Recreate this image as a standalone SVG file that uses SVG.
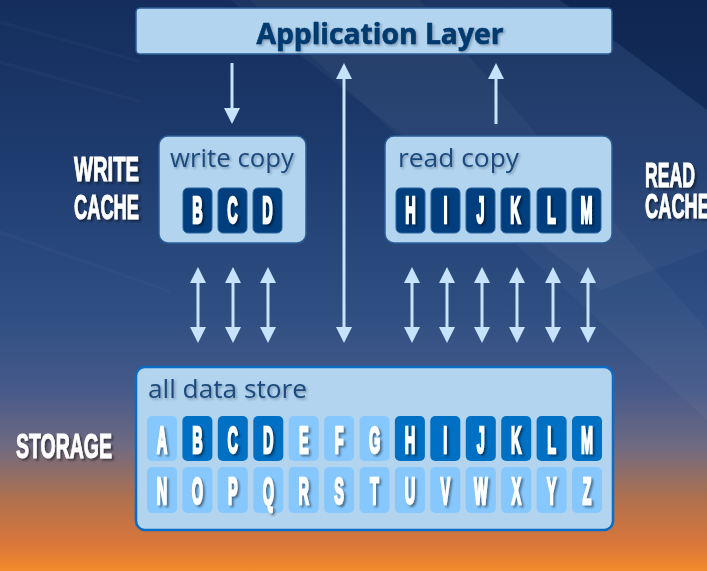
<svg xmlns="http://www.w3.org/2000/svg" width="707" height="571" viewBox="0 0 707 571">
<defs>
<linearGradient id="bg" x1="0" y1="0" x2="0" y2="1">
<stop offset="0" stop-color="#142d5c"/>
<stop offset="0.3" stop-color="#1f3d70"/>
<stop offset="0.55" stop-color="#2f4f82"/>
<stop offset="0.68" stop-color="#45598a"/>
<stop offset="0.78" stop-color="#6e6a82"/>
<stop offset="0.87" stop-color="#ad7050"/>
<stop offset="0.95" stop-color="#d8763a"/>
<stop offset="1" stop-color="#f28b2c"/>
</linearGradient>
<filter id="sh" x="-20%" y="-20%" width="150%" height="150%">
<feDropShadow dx="2" dy="2" stdDeviation="1" flood-color="#000" flood-opacity="0.45"/>
</filter>
<filter id="sh2" x="-20%" y="-20%" width="150%" height="150%">
<feDropShadow dx="1.5" dy="1.5" stdDeviation="1" flood-color="#1a2a40" flood-opacity="0.35"/>
</filter>
<marker id="ah" viewBox="0 0 16 16" refX="0" refY="8" markerWidth="16" markerHeight="16" markerUnits="userSpaceOnUse" orient="auto-start-reverse">
<path d="M0,0 L16,8 L0,16 Z" fill="#c6e3fb"/>
</marker>
<style>
.box{fill:#b2d4ee;stroke:#2b5e97;stroke-width:1.5}
.sbox{fill:#b2d4ee;stroke:#0a6cc4;stroke-width:2.5}
.title{font-family:"Open Sans","Liberation Sans",sans-serif;font-weight:bold;fill:#003a70;stroke:#003a70;stroke-width:0.6}
.sub{font-family:"Open Sans","Liberation Sans",sans-serif;fill:#1c4a7d}
.side{font-family:"Liberation Sans",Arial,sans-serif;font-weight:bold;font-size:35px;fill:#ffffff;stroke:#ffffff;stroke-width:1}
.lt{font-family:"Liberation Sans",Arial,sans-serif;font-weight:bold;font-size:36px;fill:#ffffff;stroke:#ffffff;stroke-width:2.4;text-anchor:middle}
.tdark{fill:#003e7e;stroke:#2b64a0;stroke-width:1}
.tblue{fill:#0070c4}
.tlight{fill:#86c8fd}
.arr{stroke:#c6e3fb;stroke-width:3;fill:none}
</style>
</defs>

<g id="background">
<rect x="0" y="0" width="707" height="571" fill="url(#bg)"/>
<polygon points="560,0 707,0 707,110" fill="#0a1e48" opacity="0.45"/>
<polygon points="230,0 560,0 707,110 707,250 600,290" fill="#ffffff" opacity="0.035"/>
<polygon points="250,0 420,0 707,330 707,420" fill="#ffffff" opacity="0.03"/>
<polygon points="0,20 140,60 140,63 0,24" fill="#ffffff" opacity="0.025"/>
<polygon points="0,60 140,100 140,103 0,64" fill="#ffffff" opacity="0.025"/>
<polygon points="0,230 170,290 170,293 0,234" fill="#ffffff" opacity="0.025"/>
</g>

<g id="connectors">
<line class="arr" x1="232" y1="63" x2="232" y2="108" marker-end="url(#ah)"/>
<line class="arr" x1="496" y1="124" x2="496" y2="79" marker-end="url(#ah)"/>
<line class="arr" x1="344" y1="79" x2="344" y2="327" marker-start="url(#ah)" marker-end="url(#ah)"/>
<line class="arr" x1="198" y1="283" x2="198" y2="327" marker-start="url(#ah)" marker-end="url(#ah)"/>
<line class="arr" x1="233" y1="283" x2="233" y2="327" marker-start="url(#ah)" marker-end="url(#ah)"/>
<line class="arr" x1="268" y1="283" x2="268" y2="327" marker-start="url(#ah)" marker-end="url(#ah)"/>
<line class="arr" x1="412" y1="283" x2="412" y2="327" marker-start="url(#ah)" marker-end="url(#ah)"/>
<line class="arr" x1="447" y1="283" x2="447" y2="327" marker-start="url(#ah)" marker-end="url(#ah)"/>
<line class="arr" x1="482" y1="283" x2="482" y2="327" marker-start="url(#ah)" marker-end="url(#ah)"/>
<line class="arr" x1="517" y1="283" x2="517" y2="327" marker-start="url(#ah)" marker-end="url(#ah)"/>
<line class="arr" x1="553" y1="283" x2="553" y2="327" marker-start="url(#ah)" marker-end="url(#ah)"/>
<line class="arr" x1="588" y1="283" x2="588" y2="327" marker-start="url(#ah)" marker-end="url(#ah)"/>
</g>

<g id="app-layer">
<rect class="box" x="136" y="8" width="476" height="46" rx="4"/>
<text class="title" x="380" y="44" font-size="28" text-anchor="middle" textLength="247" lengthAdjust="spacingAndGlyphs" filter="url(#sh2)">Application Layer</text>
</g>

<g id="write-cache">
<rect class="box" x="159" y="136" width="147" height="107" rx="9"/>
<text class="sub" x="170" y="167" font-size="25" textLength="124" lengthAdjust="spacingAndGlyphs" filter="url(#sh2)">write copy</text>
<rect class="tdark" x="183" y="188" width="29" height="45" rx="5"/>
<rect class="tdark" x="218" y="188" width="29" height="45" rx="5"/>
<rect class="tdark" x="253" y="188" width="29" height="45" rx="5"/>
<g filter="url(#sh)">
<text class="lt" transform="translate(197.5,223) scale(0.4,1)">B</text>
<text class="lt" transform="translate(232.5,223) scale(0.4,1)">C</text>
<text class="lt" transform="translate(267.5,223) scale(0.4,1)">D</text>
</g>
</g>

<g id="read-cache">
<rect class="box" x="385" y="136" width="227" height="107" rx="9"/>
<text class="sub" x="398" y="167" font-size="25" textLength="121" lengthAdjust="spacingAndGlyphs" filter="url(#sh2)">read copy</text>
<rect class="tdark" x="396" y="188" width="29" height="45" rx="5"/>
<rect class="tdark" x="431" y="188" width="29" height="45" rx="5"/>
<rect class="tdark" x="466" y="188" width="29" height="45" rx="5"/>
<rect class="tdark" x="501" y="188" width="29" height="45" rx="5"/>
<rect class="tdark" x="537" y="188" width="29" height="45" rx="5"/>
<rect class="tdark" x="572" y="188" width="29" height="45" rx="5"/>
<g filter="url(#sh)">
<text class="lt" transform="translate(410.5,223) scale(0.4,1)">H</text>
<text class="lt" transform="translate(445.5,223) scale(0.4,1)">I</text>
<text class="lt" transform="translate(480.5,223) scale(0.4,1)">J</text>
<text class="lt" transform="translate(515.5,223) scale(0.4,1)">K</text>
<text class="lt" transform="translate(551.5,223) scale(0.4,1)">L</text>
<text class="lt" transform="translate(586.5,223) scale(0.4,1)">M</text>
</g>
</g>

<g id="storage">
<rect class="sbox" x="136" y="367" width="477" height="163" rx="9"/>
<text class="sub" x="148" y="398" font-size="26" textLength="159" lengthAdjust="spacingAndGlyphs" filter="url(#sh2)">all data store</text>
<g id="row1">
<rect class="tlight" x="147" y="416" width="30" height="45" rx="5"/>
<rect class="tblue" x="182.4" y="416" width="30" height="45" rx="5"/>
<rect class="tblue" x="217.8" y="416" width="30" height="45" rx="5"/>
<rect class="tblue" x="253.3" y="416" width="30" height="45" rx="5"/>
<rect class="tlight" x="288.7" y="416" width="30" height="45" rx="5"/>
<rect class="tlight" x="324.1" y="416" width="30" height="45" rx="5"/>
<rect class="tlight" x="359.5" y="416" width="30" height="45" rx="5"/>
<rect class="tblue" x="394.9" y="416" width="30" height="45" rx="5"/>
<rect class="tblue" x="430.3" y="416" width="30" height="45" rx="5"/>
<rect class="tblue" x="465.8" y="416" width="30" height="45" rx="5"/>
<rect class="tblue" x="501.2" y="416" width="30" height="45" rx="5"/>
<rect class="tblue" x="536.6" y="416" width="30" height="45" rx="5"/>
<rect class="tblue" x="572" y="416" width="30" height="45" rx="5"/>
</g>
<g id="row2">
<rect class="tlight" x="147" y="467" width="30" height="46" rx="5"/>
<rect class="tlight" x="182.4" y="467" width="30" height="46" rx="5"/>
<rect class="tlight" x="217.8" y="467" width="30" height="46" rx="5"/>
<rect class="tlight" x="253.3" y="467" width="30" height="46" rx="5"/>
<rect class="tlight" x="288.7" y="467" width="30" height="46" rx="5"/>
<rect class="tlight" x="324.1" y="467" width="30" height="46" rx="5"/>
<rect class="tlight" x="359.5" y="467" width="30" height="46" rx="5"/>
<rect class="tlight" x="394.9" y="467" width="30" height="46" rx="5"/>
<rect class="tlight" x="430.3" y="467" width="30" height="46" rx="5"/>
<rect class="tlight" x="465.8" y="467" width="30" height="46" rx="5"/>
<rect class="tlight" x="501.2" y="467" width="30" height="46" rx="5"/>
<rect class="tlight" x="536.6" y="467" width="30" height="46" rx="5"/>
<rect class="tlight" x="572" y="467" width="30" height="46" rx="5"/>
</g>
<g filter="url(#sh)">
<text class="lt" transform="translate(162,453) scale(0.4,1)">A</text>
<text class="lt" transform="translate(197.4,453) scale(0.4,1)">B</text>
<text class="lt" transform="translate(232.8,453) scale(0.4,1)">C</text>
<text class="lt" transform="translate(268.3,453) scale(0.4,1)">D</text>
<text class="lt" transform="translate(303.7,453) scale(0.4,1)">E</text>
<text class="lt" transform="translate(339.1,453) scale(0.4,1)">F</text>
<text class="lt" transform="translate(374.5,453) scale(0.4,1)">G</text>
<text class="lt" transform="translate(409.9,453) scale(0.4,1)">H</text>
<text class="lt" transform="translate(445.3,453) scale(0.4,1)">I</text>
<text class="lt" transform="translate(480.8,453) scale(0.4,1)">J</text>
<text class="lt" transform="translate(516.2,453) scale(0.4,1)">K</text>
<text class="lt" transform="translate(551.6,453) scale(0.4,1)">L</text>
<text class="lt" transform="translate(587,453) scale(0.4,1)">M</text>
<text class="lt" transform="translate(162,504) scale(0.4,1)">N</text>
<text class="lt" transform="translate(197.4,504) scale(0.4,1)">O</text>
<text class="lt" transform="translate(232.8,504) scale(0.4,1)">P</text>
<text class="lt" transform="translate(268.3,504) scale(0.4,1)">Q</text>
<text class="lt" transform="translate(303.7,504) scale(0.4,1)">R</text>
<text class="lt" transform="translate(339.1,504) scale(0.4,1)">S</text>
<text class="lt" transform="translate(374.5,504) scale(0.4,1)">T</text>
<text class="lt" transform="translate(409.9,504) scale(0.4,1)">U</text>
<text class="lt" transform="translate(445.3,504) scale(0.4,1)">V</text>
<text class="lt" transform="translate(480.8,504) scale(0.4,1)">W</text>
<text class="lt" transform="translate(516.2,504) scale(0.4,1)">X</text>
<text class="lt" transform="translate(551.6,504) scale(0.4,1)">Y</text>
<text class="lt" transform="translate(587,504) scale(0.4,1)">Z</text>
</g>
</g>

<g id="side-labels" filter="url(#sh)">
<text class="side" x="74" y="181" textLength="65" lengthAdjust="spacingAndGlyphs">WRITE</text>
<text class="side" x="74" y="219" textLength="65" lengthAdjust="spacingAndGlyphs">CACHE</text>
<text class="side" x="645" y="187" textLength="50" lengthAdjust="spacingAndGlyphs">READ</text>
<text class="side" x="645" y="218" textLength="65" lengthAdjust="spacingAndGlyphs">CACHE</text>
<text class="side" x="16" y="458" textLength="96" lengthAdjust="spacingAndGlyphs">STORAGE</text>
</g>
</svg>
